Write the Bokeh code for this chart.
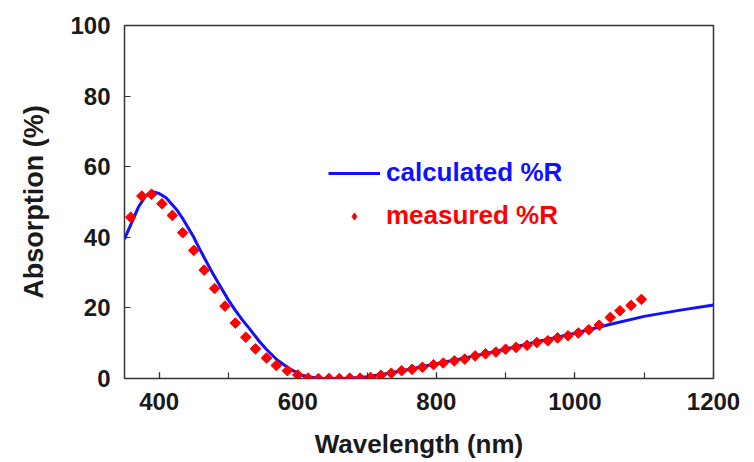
import numpy as np
from bokeh.plotting import figure
from bokeh.models import Range1d, FixedTicker, Legend, LegendItem
from bokeh.embed import file_html
from bokeh.resources import INLINE

# ---- data ----
calc_wavelength = [350, 360, 370, 380, 390, 400, 410, 425, 435, 450, 460, 475, 485, 500,
                   510, 520, 530, 545, 555, 570, 580, 590, 605, 615, 630, 650, 670, 700,
                   725, 750, 775, 800, 850, 900, 950, 1000, 1050, 1100, 1150, 1200]
calc_absorption = [39.5, 44.0, 48.5, 51.6, 52.9, 52.4, 51.2, 47.9, 45.0, 40.0, 36.1, 30.6,
                   27.2, 22.2, 19.3, 16.6, 14.2, 10.4, 8.2, 5.3, 3.9, 2.6, 1.0, 0.5, 0.1,
                   0.0, 0.0, 0.5, 1.3, 2.2, 3.2, 4.2, 6.2, 8.3, 10.6, 12.8, 15.3, 17.6,
                   19.3, 20.8]

meas_wavelength = [359, 375, 389, 404, 419, 434, 450, 465, 480, 495, 510, 525, 539, 555,
                   569, 585, 600, 615, 630, 645, 660, 675, 690, 705, 720, 735, 750, 765,
                   780, 796, 810, 826, 841, 856, 871, 886, 900, 915, 931, 945, 961, 975,
                   990, 1005, 1020, 1035, 1051, 1065, 1081, 1096]
meas_absorption = [45.7, 51.7, 52.2, 49.5, 46.2, 41.3, 36.3, 30.7, 25.5, 20.5, 15.7, 11.7,
                   8.4, 5.8, 3.7, 2.2, 1.0, 0.1, 0.0, 0.0, 0.0, 0.1, 0.1, 0.3, 0.9, 1.5,
                   2.2, 2.6, 3.2, 3.9, 4.4, 5.0, 5.5, 6.4, 7.0, 7.5, 8.3, 8.8, 9.4, 10.2,
                   10.7, 11.5, 12.1, 12.9, 13.8, 15.1, 17.3, 19.2, 20.7, 22.4]

x_label_ticks = [400, 600, 800, 1000, 1200]
x_minor_ticks = [400, 500, 600, 700, 800, 900, 1000, 1100]
y_ticks = [0, 20, 40, 60, 80, 100]

FONT = "Liberation Sans"
TXT = "#1a1a1a"
FRAME = "#333333"

p = figure(width=754, height=462, output_backend="svg", toolbar_location=None,
           x_range=Range1d(350, 1200), y_range=Range1d(0, 100),
           min_border_left=124, min_border_right=41, min_border_top=25,
           min_border_bottom=84, background_fill_color="white",
           border_fill_color="white")

p.grid.visible = False
p.outline_line_color = FRAME
p.outline_line_width = 1.5

for ax in (p.xaxis[0], p.yaxis[0]):
    ax.axis_line_color = None
    ax.major_tick_in = 6
    ax.major_tick_out = 0
    ax.minor_tick_in = 6
    ax.minor_tick_out = 0
    ax.major_tick_line_color = FRAME
    ax.minor_tick_line_color = FRAME
    ax.major_tick_line_width = 1.2
    ax.minor_tick_line_width = 1.2
    ax.major_label_text_font = FONT
    ax.major_label_text_font_style = "bold"
    ax.major_label_text_font_size = "24px"
    ax.major_label_text_color = TXT
    ax.axis_label_text_font = FONT
    ax.axis_label_text_font_style = "bold"
    ax.axis_label_text_color = TXT

p.xaxis.ticker = FixedTicker(ticks=x_label_ticks, minor_ticks=x_minor_ticks)
p.yaxis.ticker = FixedTicker(ticks=y_ticks, minor_ticks=[])
p.xaxis.axis_label = "Wavelength (nm)"
p.yaxis.axis_label = "Absorption (%)"
p.xaxis.axis_label_text_font_size = "26px"
p.yaxis.axis_label_text_font_size = "27px"
p.xaxis.major_label_standoff = 14
p.yaxis.major_label_standoff = 14
p.xaxis.axis_label_standoff = 16
p.yaxis.axis_label_standoff = 18

line_r = p.line(calc_wavelength, calc_absorption, line_color="#1010ff", line_width=3)
pts_r = p.scatter(meas_wavelength, meas_absorption, marker="square", angle=np.pi / 4,
                  size=7.5, fill_color="#ff0000", line_color="#ff0000", line_width=1)
# hidden twin of the measured series, used only for its legend swatch
key_r = p.scatter(meas_wavelength, meas_absorption, marker="diamond", size=8,
                  fill_color="#ff0000", line_color="#ff0000", visible=False)

common = dict(padding=0, margin=0, spacing=0, border_line_color=None,
              background_fill_alpha=0, label_text_font=FONT,
              label_text_font_style="bold", label_text_font_size="26px",
              label_standoff=6, glyph_width=52)

leg1 = Legend(items=[LegendItem(label="calculated %R", renderers=[line_r])],
              location=(204, 190), label_text_color="#1010ff",
              glyph_height=30, label_height=30, **common)
leg2 = Legend(items=[LegendItem(label="measured %R", renderers=[key_r], index=0)],
              location=(204, 147), label_text_color="#ff0000",
              glyph_height=18, label_height=18, **common)
p.add_layout(leg1)
p.add_layout(leg2)

open("out.html", "w").write(file_html(p, INLINE))
